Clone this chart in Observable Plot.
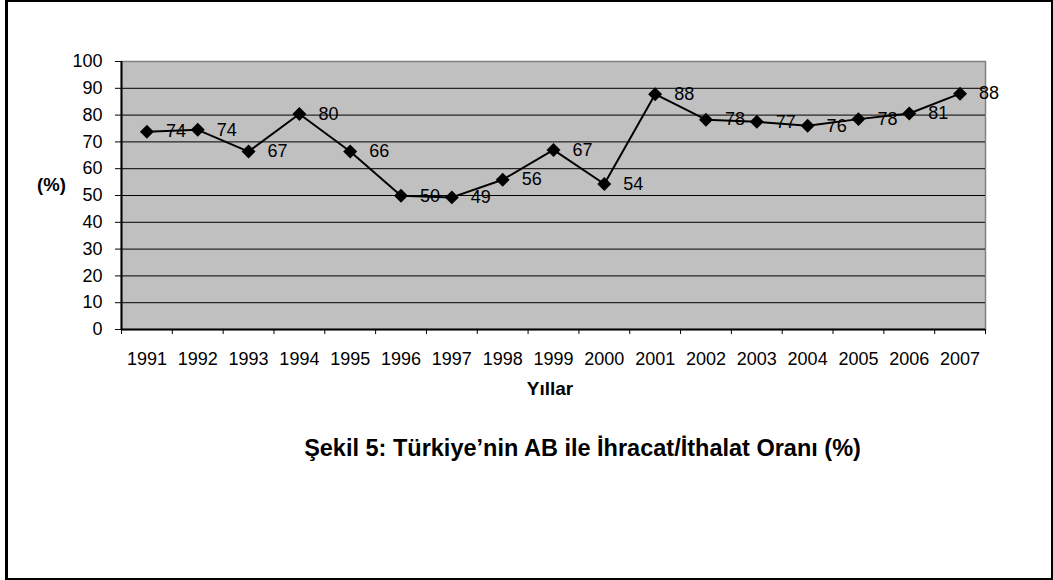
<!DOCTYPE html>
<html>
<head>
<meta charset="utf-8">
<script src="https://cdn.jsdelivr.net/npm/d3@7"></script>
<script src="https://cdn.jsdelivr.net/npm/@observablehq/plot@0.6"></script>
<style>
  html, body { margin: 0; padding: 0; background: #fff; }
  #wrap { position: relative; width: 1053px; height: 580px; overflow: hidden; }
  #frame { position: absolute; left: 5px; top: 0; width: 1048px; height: 580px; box-sizing: border-box;
           border: 2px solid #000; border-left-width: 3px; pointer-events: none; }
  svg { font-family: "Liberation Sans", Arial, sans-serif; }
</style>
</head>
<body>
<div id="wrap"><div id="frame"></div></div>
<script>
const years = ["1991","1992","1993","1994","1995","1996","1997","1998","1999","2000","2001","2002","2003","2004","2005","2006","2007"];
const ratios = [73.8, 74.5, 66.4, 80.4, 66.4, 49.9, 49.3, 55.9, 67.0, 54.3, 87.8, 78.3, 77.5, 76.0, 78.5, 80.6, 88.0];
const labels = ["74","74","67","80","66","50","49","56","67","54","88","78","77","76","78","81","88"];
const yTicks = [0,10,20,30,40,50,60,70,80,90,100];
const gridLines = [10,20,30,40,50,60,70,80,90];
const yTitle = "(%)";
const xTitle = "Yıllar";
const caption = "Şekil 5: Türkiye’nin AB ile İhracat/İthalat Oranı (%)";

const data = years.map((y, i) => ({idx: i + 0.5, year: y, value: ratios[i], label: labels[i]}));
const bounds = d3.range(years.length + 1);
const centers = years.map((_, i) => i + 0.5);

const FS = "18px";
const chart = Plot.plot({
  width: 1053,
  height: 580,
  marginLeft: 121,
  marginRight: 68,
  marginTop: 61,
  marginBottom: 251,
  style: {fontFamily: '"Liberation Sans", Arial, sans-serif', fontSize: FS, color: "#000", background: "transparent"},
  x: {domain: [0, years.length], axis: null},
  y: {domain: [0, 100], axis: null},
  marks: [
    Plot.frame({fill: "#c0c0c0", stroke: "#808080", strokeWidth: 1.5}),
    Plot.ruleY(gridLines, {stroke: "#000", strokeWidth: 1}),
    Plot.axisY({ticks: yTicks, tickSize: 6, tickPadding: 13, stroke: "#000", strokeOpacity: 1, fill: "#000", fontSize: FS, label: null}),
    Plot.axisX({ticks: bounds, tickSize: 5, tickFormat: () => "", stroke: "#000", strokeOpacity: 1, label: null}),
    Plot.axisX({ticks: centers, tickSize: 0, tickPadding: 23, tickFormat: d => years[Math.floor(d)], fill: "#000", fontSize: FS, label: null}),
    Plot.ruleX([0], {stroke: "#000", strokeWidth: 2}),
    Plot.ruleY([0], {stroke: "#000", strokeWidth: 2}),
    Plot.line(data, {x: "idx", y: "value", stroke: "#000", strokeWidth: 2}),
    Plot.dot(data, {x: "idx", y: "value", symbol: "diamond2", r: 6.3, fill: "#000", stroke: "none"}),
    Plot.text(data, {x: "idx", y: "value", text: "label", dx: 19, textAnchor: "start", fill: "#000", fontSize: FS}),
    Plot.text([yTitle], {frameAnchor: "left", textAnchor: "middle", dx: -70, dy: -10, fontWeight: "bold", fontSize: "18.5px", fill: "#000"}),
    Plot.text([xTitle], {frameAnchor: "bottom", dx: -3.5, dy: 65, fontWeight: "bold", fontSize: "19px", fill: "#000"}),
    Plot.text([caption], {frameAnchor: "bottom", dx: 29, dy: 126, fontWeight: "bold", fontSize: "23.5px", fill: "#000"})
  ]
});
document.getElementById("wrap").prepend(chart);
</script>
</body>
</html>
